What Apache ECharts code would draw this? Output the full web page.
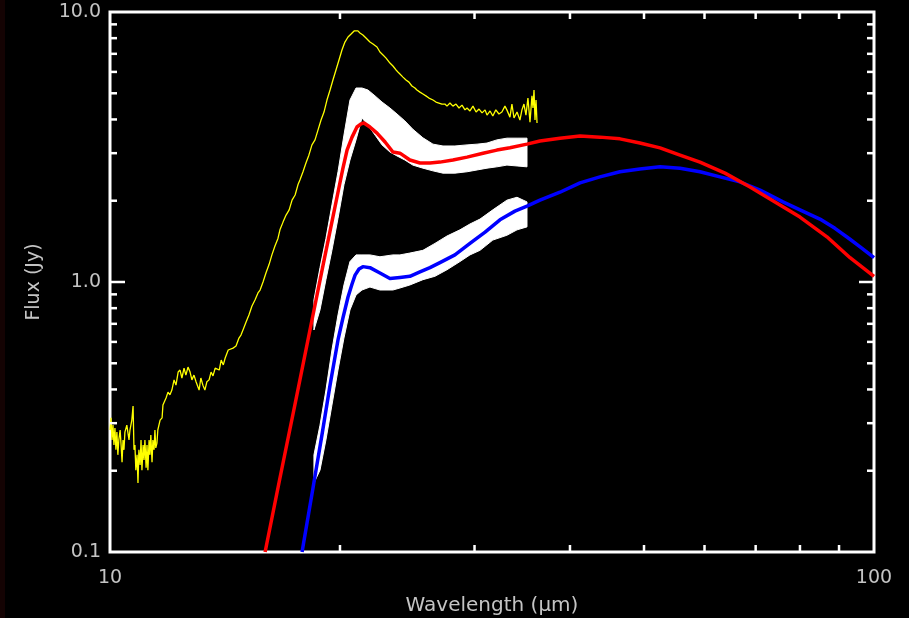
<!DOCTYPE html>
<html><head><meta charset="utf-8">
<script src="https://cdn.jsdelivr.net/npm/echarts@6/dist/echarts.min.js"></script>
<style>html,body{margin:0;padding:0;background:#000;}#c{width:909px;height:618px;}</style>
</head><body><div id="c"></div>
<script>
// Observed spectrum (yellow)
const specX = [10.00,10.03,10.06,10.09,10.12,10.15,10.18,10.21,10.24,10.27,
10.31,10.34,10.37,10.40,10.43,10.46,10.52,10.59,10.62,10.68,
10.72,10.75,10.78,10.81,10.85,10.88,10.91,10.95,10.98,11.01,
11.05,11.08,11.11,11.15,11.18,11.21,11.25,11.28,11.31,11.35,
11.38,11.42,11.45,11.48,11.52,11.55,11.63,11.70,11.73,11.80,
11.84,11.91,11.98,12.05,12.13,12.20,12.28,12.35,12.42,12.50,
12.57,12.65,12.73,12.80,12.88,12.96,13.08,13.15,13.23,13.31,
13.39,13.48,13.56,13.64,13.73,13.81,13.90,13.98,14.07,14.15,
14.23,14.28,14.36,14.49,14.62,14.75,14.84,14.93,15.07,15.20,
15.34,15.48,15.62,15.72,15.86,16.00,16.15,16.29,16.44,16.59,
16.69,16.85,17.00,17.16,17.31,17.47,17.62,17.73,17.89,18.05,
18.21,18.38,18.55,18.72,18.89,19.06,19.23,19.41,19.58,19.76,
19.94,20.12,20.30,20.49,20.68,20.87,20.99,21.11,21.24,21.43,
21.63,21.89,22.09,22.36,22.56,22.77,22.98,23.25,23.46,23.68,
23.89,24.18,24.40,24.62,24.84,25.07,25.22,25.45,25.68,25.91,
26.15,26.47,26.71,26.95,27.19,27.44,27.61,27.86,28.11,28.37,
28.63,28.89,29.15,29.33,29.59,29.86,30.14,30.41,30.69,30.97,
31.15,31.44,31.70,31.99,32.29,32.58,32.88,33.07,33.38,33.58,
33.79,34.10,34.40,34.61,34.82,35.03,35.24,35.46,35.67,35.78,
35.89,36.00,36.11,36.22];
const specY = [0.283,0.314,0.260,0.295,0.249,0.288,0.239,0.278,0.229,0.260,
0.283,0.249,0.215,0.260,0.239,0.278,0.295,0.260,0.283,0.308,
0.347,0.239,0.249,0.201,0.229,0.180,0.239,0.210,0.260,0.201,
0.249,0.219,0.260,0.205,0.249,0.201,0.260,0.229,0.271,0.215,
0.260,0.239,0.283,0.243,0.253,0.283,0.308,0.314,0.350,0.356,
0.372,0.391,0.382,0.398,0.434,0.415,0.464,0.472,0.441,0.480,
0.452,0.484,0.464,0.434,0.452,0.427,0.398,0.441,0.415,0.398,
0.427,0.434,0.464,0.449,0.480,0.484,0.472,0.514,0.493,0.523,
0.527,0.560,0.565,0.569,0.579,0.620,0.636,0.664,0.711,0.755,
0.815,0.858,0.911,0.934,1.00,1.08,1.16,1.26,1.36,1.45,
1.56,1.67,1.77,1.85,2.01,2.10,2.29,2.39,2.56,2.76,
2.95,3.22,3.36,3.66,3.98,4.26,4.72,5.14,5.60,6.10,
6.64,7.23,7.74,8.08,8.29,8.51,8.58,8.51,8.36,8.22,
8.01,7.74,7.61,7.42,7.11,6.93,6.75,6.47,6.31,6.10,
5.94,5.74,5.60,5.50,5.32,5.23,5.14,5.05,4.97,4.89,
4.80,4.72,4.64,4.60,4.56,4.56,4.48,4.60,4.48,4.56,
4.41,4.52,4.34,4.41,4.30,4.48,4.26,4.37,4.23,4.34,
4.15,4.30,4.12,4.34,4.19,4.26,4.48,4.34,4.08,4.56,
4.05,4.26,3.98,4.34,4.56,4.15,4.80,3.91,4.89,4.41,
5.14,3.98,4.72,3.88];

// Model curves
const redX = [15.96,16.69,17.47,18.27,19.00,19.52,19.88,20.18,20.43,20.74,21.05,21.31,21.50,21.89,22.36,22.91,23.46,23.96,24.69,25.45,26.23,27.03,28.11,29.33,30.78,32.09,33.38,35.14,36.54,38.81,41.23,43.78,46.50,49.38,52.47,55.73,59.19,63.82,68.82,74.2,80.0,86.77,93.03,100];
const redY = [0.100,0.188,0.354,0.664,1.15,1.67,2.15,2.64,3.08,3.44,3.75,3.85,3.88,3.75,3.56,3.30,3.03,3.00,2.83,2.76,2.76,2.78,2.83,2.90,3.00,3.08,3.14,3.24,3.33,3.41,3.47,3.44,3.39,3.27,3.14,2.95,2.78,2.53,2.25,1.98,1.74,1.47,1.23,1.05];
const blueX = [17.84,18.44,18.94,19.41,19.88,20.18,20.49,20.74,20.93,21.18,21.43,21.89,22.56,23.25,23.96,24.69,25.45,26.23,27.03,28.28,29.59,30.97,32.39,33.89,35.14,36.54,38.81,41.23,43.78,46.50,49.38,52.47,55.73,59.19,62.86,66.75,70.93,76.0,80.0,84.96,88.9,93.03,95.90,100];
const blueY = [0.100,0.173,0.271,0.415,0.610,0.736,0.880,0.983,1.06,1.117,1.14,1.13,1.08,1.03,1.04,1.05,1.09,1.13,1.18,1.26,1.39,1.53,1.70,1.83,1.91,2.01,2.15,2.33,2.45,2.56,2.62,2.67,2.64,2.56,2.45,2.35,2.19,1.98,1.85,1.71,1.58,1.44,1.35,1.23];

// Photometry error envelopes (white)
const redBandX  = [18.49,18.83,19.17,19.52,19.88,20.24,20.61,20.99,21.37,21.76,22.23,22.70,23.25,23.75,24.32,24.91,25.68,26.47,27.28,28.28,29.33,30.23,31.15,32.09,33.08,34.10,35.14];
const redBandLo = [0.664,0.788,1.02,1.31,1.72,2.29,2.83,3.36,4.05,3.81,3.50,3.22,3.03,2.93,2.83,2.71,2.64,2.58,2.53,2.53,2.56,2.60,2.64,2.67,2.71,2.69,2.67];
const redBandHi = [0.858,1.13,1.45,1.93,2.56,3.50,4.72,5.23,5.23,5.14,4.89,4.64,4.41,4.19,3.95,3.68,3.42,3.24,3.19,3.19,3.22,3.24,3.27,3.36,3.41,3.41,3.41];
const blueBandX  = [18.49,18.83,19.17,19.52,19.88,20.24,20.61,20.99,21.37,21.89,22.56,23.46,23.96,24.69,25.68,26.63,27.61,28.71,29.59,30.50,31.70,33.08,34.10,35.14];
const blueBandLo = [0.180,0.201,0.260,0.350,0.472,0.620,0.788,0.895,0.934,0.958,0.934,0.934,0.950,0.975,1.02,1.05,1.11,1.19,1.26,1.31,1.43,1.49,1.56,1.60];
const blueBandHi = [0.229,0.295,0.398,0.560,0.755,0.975,1.19,1.26,1.26,1.26,1.24,1.26,1.26,1.28,1.31,1.39,1.48,1.56,1.64,1.71,1.85,2.01,2.06,1.98];

// Ticks
const xMinorTicks = [20,30,40,50,60,70,80,90];
const yMinorTicks = [0.2,0.3,0.4,0.5,0.6,0.7,0.8,0.9,2,3,4,5,6,7,8,9];
const yMajorTicks = [1];

const TXT = '#c4c4c4';
const FONT = '"DejaVu Sans", sans-serif';

function bandSeries(xs, lo, hi) {
  return {
    type: 'custom', silent: true, z: 1, data: [[xs[0], lo[0]]],
    renderItem: function (params, api) {
      const pts = [];
      for (let i = 0; i < xs.length; i++) pts.push(api.coord([xs[i], hi[i]]));
      for (let i = xs.length - 1; i >= 0; i--) pts.push(api.coord([xs[i], lo[i]]));
      return { type: 'polygon', shape: { points: pts }, style: { fill: '#ffffff', stroke: '#ffffff', lineWidth: 1 } };
    }
  };
}

function tickLine(x1, y1, x2, y2) {
  return { type: 'line', shape: { x1: x1, y1: y1, x2: x2, y2: y2 }, style: { stroke: '#ffffff', lineWidth: 2.5 } };
}

const chart = echarts.init(document.getElementById('c'), null, { renderer: 'canvas' });
chart.setOption({
  backgroundColor: '#000000',
  animation: false,
  graphic: [{ type: 'rect', left: 0, top: 0, shape: { width: 5, height: 618 }, style: { fill: '#140303' } }],
  grid: { left: 110, right: 35, top: 12, bottom: 66, containLabel: false, outerBoundsMode: 'none',
    show: true, borderColor: '#ffffff', borderWidth: 3, backgroundColor: 'transparent' },
  xAxis: {
    type: 'log', logBase: 10, min: 10, max: 100,
    name: 'Wavelength (\u03bcm)', nameLocation: 'middle', nameGap: 44,
    nameTextStyle: { color: TXT, fontSize: 20, fontFamily: FONT },
    axisLine: { show: false }, axisTick: { show: false }, splitLine: { show: false },
    axisLabel: { color: TXT, fontSize: 19, fontFamily: FONT, margin: 17, showMinLabel: true, showMaxLabel: true,
      formatter: function (v) { return String(Math.round(v)); } }
  },
  yAxis: {
    type: 'log', logBase: 10, min: 0.1, max: 10,
    name: 'Flux (Jy)', nameLocation: 'middle', nameGap: 66,
    nameTextStyle: { color: TXT, fontSize: 19, fontFamily: FONT },
    axisLine: { show: false }, axisTick: { show: false }, splitLine: { show: false },
    axisLabel: { color: TXT, fontSize: 19, fontFamily: FONT, margin: 9, showMinLabel: true, showMaxLabel: true,
      formatter: function (v) { return Number(v).toFixed(1); } }
  },
  series: [
    bandSeries(redBandX, redBandLo, redBandHi),
    bandSeries(blueBandX, blueBandLo, blueBandHi),
    { type: 'line', name: 'spectrum', data: specX.map((x, i) => [x, specY[i]]), symbol: 'none', z: 2,
      lineStyle: { color: '#ffff00', width: 1.3 } },
    { type: 'line', name: 'model2', data: blueX.map((x, i) => [x, blueY[i]]), symbol: 'none', z: 3,
      lineStyle: { color: '#0000ff', width: 3.5, join: 'round' } },
    { type: 'line', name: 'model1', data: redX.map((x, i) => [x, redY[i]]), symbol: 'none', z: 4,
      lineStyle: { color: '#ff0000', width: 3.5, join: 'round' } },
    { type: 'custom', silent: true, z: 5, data: xMinorTicks.map(v => [v, 1]),
      renderItem: function (params, api) {
        const v = api.value(0);
        const b = api.coord([v, 0.1]), t = api.coord([v, 10]);
        return { type: 'group', children: [tickLine(b[0], b[1], b[0], b[1] - 7), tickLine(t[0], t[1], t[0], t[1] + 7)] };
      } },
    { type: 'custom', silent: true, z: 5, data: yMinorTicks.map(v => [20, v]).concat(yMajorTicks.map(v => [30, v])),
      renderItem: function (params, api) {
        const v = api.value(1);
        const len = yMajorTicks.indexOf(v) >= 0 ? 15 : 7;
        const l = api.coord([10, v]), r = api.coord([100, v]);
        return { type: 'group', children: [tickLine(l[0], l[1], l[0] + len, l[1]), tickLine(r[0], r[1], r[0] - len, r[1])] };
      } }
  ]
});
</script>
</body></html>
